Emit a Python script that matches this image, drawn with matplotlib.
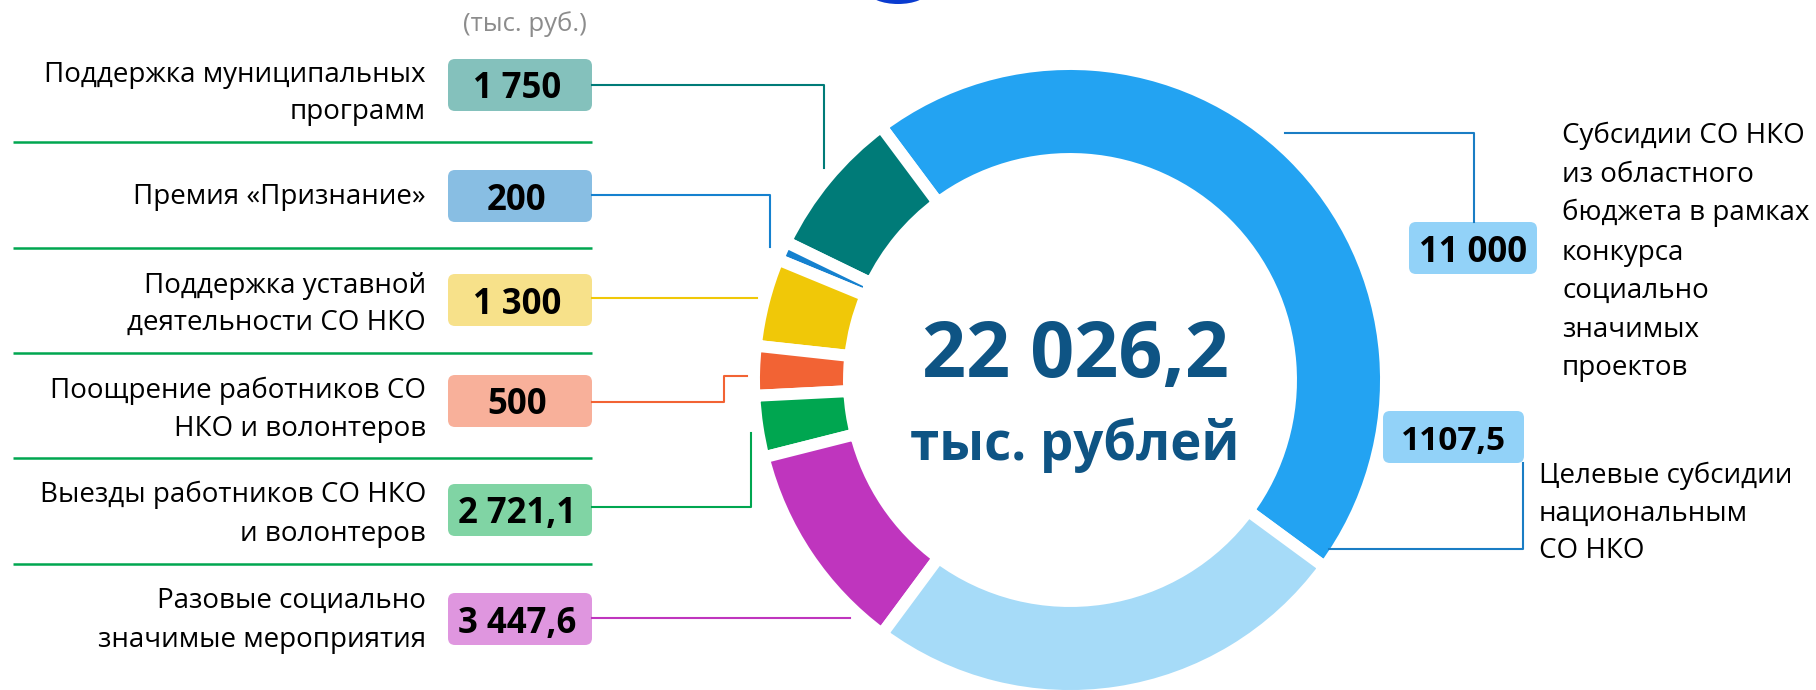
import matplotlib
matplotlib.use("Agg")
import matplotlib.pyplot as plt
from matplotlib.patches import FancyBboxPatch, Ellipse

plt.rcParams['font.family'] = ['Open Sans', 'DejaVu Sans']

# ---------------- data ----------------
left_labels = [
    ["Поддержка муниципальных", "программ"],
    ["Премия «Признание»"],
    ["Поддержка уставной", "деятельности СО НКО"],
    ["Поощрение работников СО", "НКО и волонтеров"],
    ["Выезды работников СО НКО", "и волонтеров"],
    ["Разовые социально", "значимые мероприятия"],
]
left_values = [1750, 200, 1300, 500, 2721.1, 3447.6]
left_value_text = ["1 750", "200", "1 300", "500", "2 721,1", "3 447,6"]

right_labels = [
    ["Субсидии СО НКО", "из областного", "бюджета в рамках", "конкурса",
     "социально", "значимых", "проектов"],
    ["Целевые субсидии", "национальным", "СО НКО"],
]
right_values = [11000, 1107.5]
right_value_text = ["11 000", "1107,5"]

# ring arc shares as drawn in the picture (percent of circle), counter-clockwise
ring_names = ["Субсидии", "Муниципальные", "Признание", "Уставная", "Поощрение",
              "Выезды", "Разовые", "Целевые"]
ring_shares = [45.28, 7.61, 0.97, 4.5, 2.53, 3.14, 10.92, 25.06]

unit_text = "(тыс. руб.)"
total = sum(left_values) + sum(right_values)
total_text = f"{total:,.1f}".replace(",", " ").replace(".", ",")
total_unit = "тыс. рублей"

# ---------------- style ----------------
ring_colors = ["#23A3F2", "#007B78", "#1581CF", "#F0C808", "#F26334",
               "#00A650", "#BF35BE", "#A6DBF8"]
left_box_colors = ["#84C1BC", "#88BEE3", "#F7E18A", "#F8B09A", "#80D4A4", "#DF96DF"]
left_line_colors = ["#007B78", "#1581CF", "#F0C808", "#F26334", "#00A650", "#BF35BE"]
right_box_color = "#92D2F8"
right_line_color = "#1a7dc4"
sep_color = "#00A650"
center_color = "#0E5484"

W, H = 1816, 690
fig = plt.figure(figsize=(W / 100, H / 100), dpi=100)
ax = fig.add_axes([0, 0, 1, 1])


def Y(y):
    return H - y


# donut
cx, cy = 1070, 380
ax.pie(ring_shares, colors=ring_colors, startangle=-36.3, counterclock=True,
       center=(cx, Y(cy)), radius=316,
       wedgeprops=dict(width=95, edgecolor="white", linewidth=8.6))

# small blue artifact at top
ax.add_patch(Ellipse((898, Y(-8)), 58, 24, color="#0a3bd0", lw=0))

# unit
ax.text(525, Y(31), unit_text, ha="center", va="baseline", fontsize=18.5, color="#8c8c8c")

# left side
box_x0, box_x1 = 448, 592
box_centers = [85, 196, 300, 401, 510, 619]
line_baselines = [[82, 119], [204], [293, 330], [398, 436], [502, 541], [608, 647]]
for i in range(6):
    ycen = box_centers[i]
    ax.add_patch(FancyBboxPatch((box_x0, Y(ycen + 26)), box_x1 - box_x0, 52,
                                boxstyle="round,pad=0,rounding_size=7",
                                fc=left_box_colors[i], ec="none"))
    ax.text(517, Y(ycen), left_value_text[i], ha="center", va="center_baseline",
            fontsize=25, fontweight="bold", color="black")
    for line, b in zip(left_labels[i], line_baselines[i]):
        ax.text(426, Y(b), line, ha="right", va="baseline", fontsize=20, color="black")

for ys in [142, 248, 353, 458, 564]:
    ax.plot([13, 592], [Y(ys), Y(ys)], color=sep_color, lw=1.8, solid_capstyle="butt")

# connectors (left)
lw_c = 1.5
ax.plot([592, 824, 824], [Y(85), Y(85), Y(168)], color=left_line_colors[0], lw=lw_c)
ax.plot([592, 770, 770], [Y(195), Y(195), Y(247)], color=left_line_colors[1], lw=lw_c)
ax.plot([592, 757], [Y(298), Y(298)], color=left_line_colors[2], lw=lw_c)
ax.plot([592, 724, 724, 747], [Y(402), Y(402), Y(376), Y(376)], color=left_line_colors[3], lw=lw_c)
ax.plot([592, 751, 751], [Y(507), Y(507), Y(433)], color=left_line_colors[4], lw=lw_c)
ax.plot([592, 850], [Y(618), Y(618)], color=left_line_colors[5], lw=lw_c)

# right side
ax.plot([1285, 1474, 1474], [Y(133), Y(133), Y(222)], color=right_line_color, lw=lw_c)
ax.plot([1329, 1523, 1523], [Y(549), Y(549), Y(463)], color=right_line_color, lw=lw_c)

right_boxes = [(1409, 1537, 248), (1383, 1524, 437)]
right_sizes = [25, 24]
for (x0, x1, yc), t, fs in zip(right_boxes, right_value_text, right_sizes):
    ax.add_patch(FancyBboxPatch((x0, Y(yc + 26)), x1 - x0, 52,
                                boxstyle="round,pad=0,rounding_size=7",
                                fc=right_box_color, ec="none"))
    ax.text((x0 + x1) / 2, Y(yc), t, ha="center", va="center_baseline",
            fontsize=fs, fontweight="bold", color="black")

r1_base = [143, 182, 220, 260, 298, 337, 375]
for line, b in zip(right_labels[0], r1_base):
    ax.text(1562, Y(b), line, ha="left", va="baseline", fontsize=20, color="black")
r2_base = [483, 521, 558]
for line, b in zip(right_labels[1], r2_base):
    ax.text(1539, Y(b), line, ha="left", va="baseline", fontsize=20, color="black")

# center text
ax.text(1075, Y(377), total_text, ha="center", va="baseline", fontsize=55.5,
        fontweight="bold", color=center_color)
ax.text(1075, Y(460), total_unit, ha="center", va="baseline", fontsize=38,
        fontweight="bold", color=center_color)

ax.set_xlim(0, W)
ax.set_ylim(0, H)
ax.set_aspect("equal")
ax.axis("off")

fig.savefig("out.png", dpi=100, facecolor="white")
